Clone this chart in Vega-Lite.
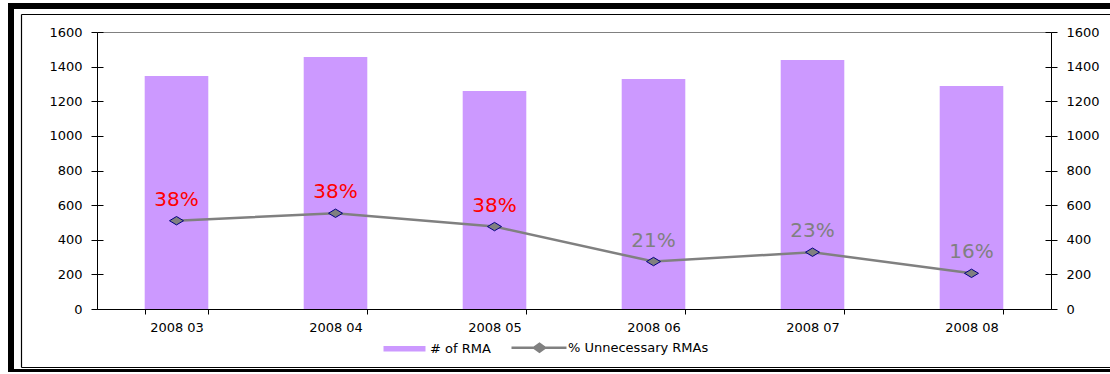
{
  "$schema": "https://vega.github.io/schema/vega-lite/v6.json",
  "width": 1110,
  "height": 366,
  "autosize": {"type": "none"},
  "padding": {"left": 11, "top": 6, "right": 0, "bottom": 0},
  "background": "white",
  "config": {
    "view": {"stroke": "black", "strokeWidth": 6},
    "font": "DejaVu Sans",
    "axis": {
      "title": null,
      "grid": false,
      "domainColor": "black",
      "tickColor": "black",
      "labelColor": "black",
      "labelFont": "DejaVu Sans",
      "labelFontSize": 13
    }
  },
  "data": {
    "values": [
      {"month": "2008 03", "rma": 1346, "unnecessary": 510, "pct": 0.38},
      {"month": "2008 04", "rma": 1456, "unnecessary": 553, "pct": 0.38},
      {"month": "2008 05", "rma": 1259, "unnecessary": 476, "pct": 0.38},
      {"month": "2008 06", "rma": 1329, "unnecessary": 274, "pct": 0.21},
      {"month": "2008 07", "rma": 1438, "unnecessary": 328, "pct": 0.23},
      {"month": "2008 08", "rma": 1288, "unnecessary": 206, "pct": 0.16}
    ]
  },
  "resolve": {"scale": {"x": "independent", "y": "independent"}},
  "layer": [
    {
      "mark": {"type": "point", "opacity": 0},
      "encoding": {
        "x": {
          "field": "month", "type": "ordinal",
          "scale": {"range": [10, 1110]},
          "axis": {"orient": "top", "offset": -8, "labels": false, "ticks": false, "domainWidth": 1.2}
        },
        "y": {
          "field": "rma", "type": "quantitative",
          "scale": {"domain": [0, 1600], "range": [361, 8], "nice": false},
          "axis": {"orient": "left", "offset": -10, "labels": false, "ticks": false, "domainWidth": 1.2}
        }
      }
    },
    {
      "mark": {"type": "point", "opacity": 0},
      "encoding": {
        "x": {
          "field": "month", "type": "ordinal",
          "scale": {"range": [10, 1110]},
          "axis": {"orient": "bottom", "offset": -5, "labels": false, "ticks": false, "domainWidth": 1.2}
        },
        "y": {
          "field": "rma", "type": "quantitative",
          "scale": {"domain": [0, 1600], "range": [361, 8], "nice": false},
          "axis": null
        }
      }
    },
    {
      "mark": {"type": "bar"},
      "encoding": {
        "x": {
          "field": "month", "type": "ordinal",
          "scale": {"range": [86, 1040], "paddingInner": 0.6, "paddingOuter": 0.3},
          "axis": {"orient": "bottom", "offset": -63, "tickBand": "extent", "labelAngle": 0, "tickSize": 5, "labelPadding": 7}
        },
        "y": {
          "field": "rma", "type": "quantitative",
          "scale": {"domain": [0, 1600], "range": [303, 26], "nice": false},
          "axis": {"orient": "left", "offset": -86, "values": [0, 200, 400, 600, 800, 1000, 1200, 1400, 1600], "format": "d", "tickSize": 6, "labelPadding": 9}
        },
        "color": {
          "datum": "# of RMA", "type": "nominal",
          "scale": {"domain": ["# of RMA", "% Unnecessary RMAs"], "range": ["#CC99FF", "#808080"]},
          "legend": {
            "orient": "none",
            "legendX": 402,
            "legendY": 335,
            "direction": "horizontal",
            "title": null,
            "padding": 0,
            "symbolSize": 3025,
            "labelOffset": 4,
            "columnPadding": 15,
            "labelFont": "DejaVu Sans",
            "labelFontSize": 13,
            "labelColor": "black",
            "encode": {
              "symbols": {
                "update": {
                  "shape": {"signal": "datum.value === '# of RMA' ? 'M-1.309,-0.1L0.218,-0.1L0.218,0.1L-1.309,0.1Z' : 'M-1.673,0L0.327,0M-0.855,0L-0.655,-0.145L-0.455,0L-0.655,0.145Z'"},
                  "fill": {"signal": "datum.value === '# of RMA' ? '#CC99FF' : '#808080'"},
                  "stroke": {"signal": "datum.value === '# of RMA' ? '#CC99FF' : '#808080'"},
                  "strokeWidth": {"signal": "datum.value === '# of RMA' ? 0 : 2.5"},
                  "opacity": {"value": 1}
                }
              }
            }
          }
        }
      }
    },
    {
      "mark": {"type": "line", "strokeWidth": 2.5},
      "encoding": {
        "x": {
          "field": "month", "type": "ordinal",
          "scale": {"range": [86, 1040], "paddingInner": 0.6, "paddingOuter": 0.3},
          "axis": null
        },
        "y": {
          "field": "unnecessary", "type": "quantitative",
          "scale": {"domain": [0, 1600], "range": [303, 26], "nice": false},
          "axis": {"orient": "right", "offset": -70, "values": [0, 200, 400, 600, 800, 1000, 1200, 1400, 1600], "format": "d", "tickSize": 6, "labelPadding": 9}
        },
        "color": {"datum": "% Unnecessary RMAs", "type": "nominal"}
      }
    },
    {
      "mark": {"type": "point", "shape": "M-1,0L0,-0.6L1,0L0,0.6Z", "size": 196, "filled": true, "fill": "#808080", "stroke": "#000080", "strokeWidth": 1, "opacity": 1},
      "encoding": {
        "x": {
          "field": "month", "type": "ordinal",
          "scale": {"range": [86, 1040], "paddingInner": 0.6, "paddingOuter": 0.3},
          "axis": null
        },
        "y": {
          "field": "unnecessary", "type": "quantitative",
          "scale": {"domain": [0, 1600], "range": [303, 26], "nice": false},
          "axis": {"orient": "left", "offset": -86, "values": [0, 200, 400, 600, 800, 1000, 1200, 1400, 1600], "domain": false, "labels": false, "tickSize": -6}
        }
      }
    },
    {
      "mark": {"type": "text", "dy": -15, "baseline": "alphabetic", "align": "center", "fontSize": 20, "font": "DejaVu Sans"},
      "encoding": {
        "x": {
          "field": "month", "type": "ordinal",
          "scale": {"range": [86, 1040], "paddingInner": 0.6, "paddingOuter": 0.3},
          "axis": {"orient": "top", "offset": -26, "labels": false, "ticks": false, "domainColor": "#808080", "domainWidth": 1}
        },
        "y": {
          "field": "unnecessary", "type": "quantitative",
          "scale": {"domain": [0, 1600], "range": [303, 26], "nice": false},
          "axis": {"orient": "right", "offset": -70, "values": [0, 200, 400, 600, 800, 1000, 1200, 1400, 1600], "domain": false, "labels": false, "tickSize": -6}
        },
        "text": {"field": "pct", "type": "quantitative", "format": ".0%"},
        "color": {"condition": {"test": "datum.pct >= 0.38", "value": "#FF0000"}, "value": "#808080"}
      }
    }
  ]
}
